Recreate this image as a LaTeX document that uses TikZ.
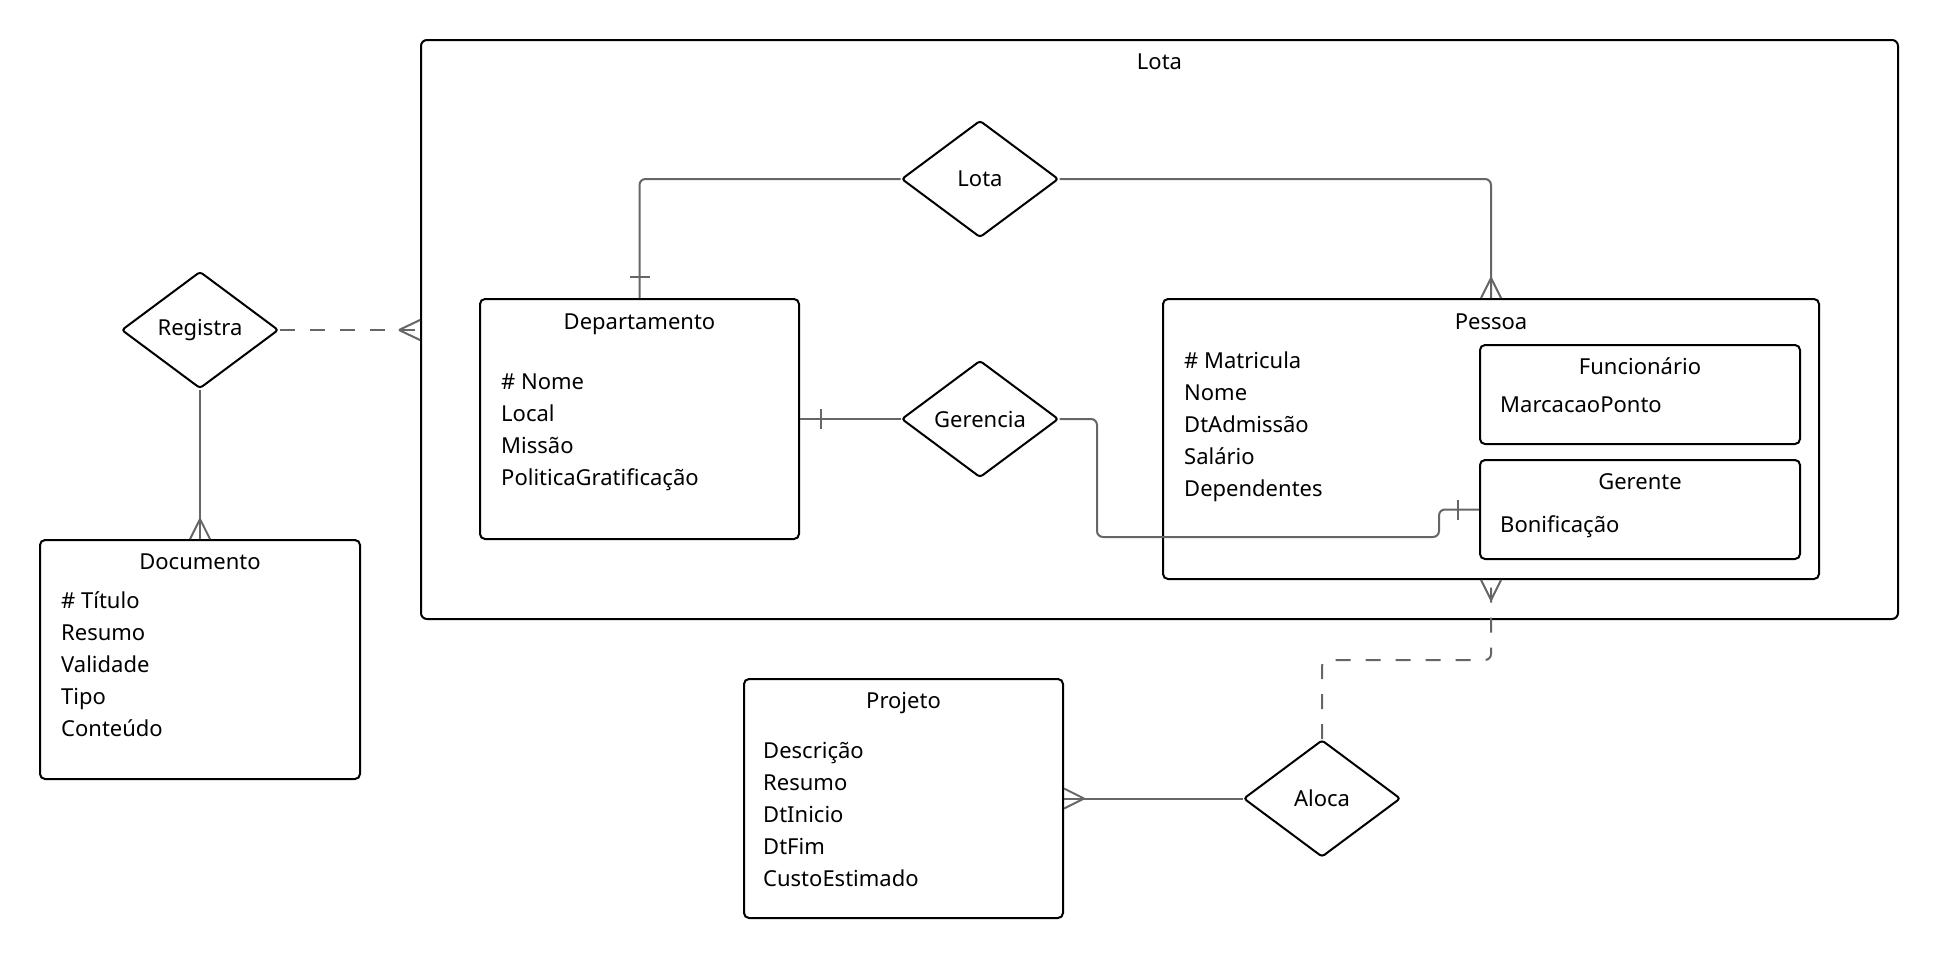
\documentclass[tikz,border=0pt]{standalone}
\usepackage{fontspec}
\setmainfont{Noto Sans}
\usetikzlibrary{shapes.geometric,calc}
\definecolor{linkgray}{HTML}{666666}
\tikzset{
  framebox/.style={draw=black, line width=2pt, rounded corners=6pt, inner sep=0pt},
  entity/.style={draw=black, line width=2pt, rounded corners=5pt, inner sep=0pt},
  relation/.style={draw=black, line width=2pt, shape=diamond, inner sep=0pt,
    minimum width=157pt, minimum height=117pt, rounded corners=3pt},
  title/.style={anchor=base, inner sep=0pt},
  attr/.style={anchor=base west, inner sep=0pt},
  link/.style={draw=linkgray, line width=2pt, rounded corners=6pt},
  dashedlink/.style={link, dash pattern=on 15pt off 15pt},
  endmark/.style={draw=linkgray, line width=2pt},
}
\begin{document}
\begin{tikzpicture}[x=1pt, y=-1pt, font=\fontsize{22}{26}\selectfont]
\useasboundingbox (0,0) rectangle (1940,959);

% enclosing frame
\node[framebox, minimum width=1477pt, minimum height=579pt] (lotaframe) at (1159.5,329.5) {};
\node[title] (lotaframe-t) at (1159.5,69) {Lota};

% entities
\node[entity, minimum width=319pt, minimum height=240pt] (dep) at (639.5,419) {};
\node[title] (dep-t) at (639.5,329) {Departamento};
\foreach \t [count=\i] in {\# Nome, Local, Missão, PoliticaGratificação}
  \node[attr] (dep-a\i) at (501,{389+32*(\i-1)}) {\t};

\node[entity, minimum width=656pt, minimum height=280pt] (pes) at (1491,439) {};
\node[title] (pes-t) at (1491,329) {Pessoa};
\foreach \t [count=\i] in {\# Matricula, Nome, DtAdmissão, Salário, Dependentes}
  \node[attr] (pes-a\i) at (1184,{368+32*(\i-1)}) {\t};

\node[entity, minimum width=320pt, minimum height=99pt] (fun) at (1640,394.5) {};
\node[title] (fun-t) at (1640,374) {Funcionário};
\node[attr] (fun-a1) at (1500,412) {MarcacaoPonto};

\node[entity, minimum width=320pt, minimum height=99pt] (gerente) at (1640,509.5) {};
\node[title] (gerente-t) at (1640,489) {Gerente};
\node[attr] (gerente-a1) at (1500,532) {Bonificação};

\node[entity, minimum width=320pt, minimum height=239pt] (doc) at (200,659.5) {};
\node[title] (doc-t) at (200,569) {Documento};
\foreach \t [count=\i] in {\# Título, Resumo, Validade, Tipo, Conteúdo}
  \node[attr] (doc-a\i) at (61,{608+32*(\i-1)}) {\t};

\node[entity, minimum width=319pt, minimum height=239pt] (proj) at (903.5,798.5) {};
\node[title] (proj-t) at (903.5,708) {Projeto};
\foreach \t [count=\i] in {Descrição, Resumo, DtInicio, DtFim, CustoEstimado}
  \node[attr] (proj-a\i) at (763,{758+32*(\i-1)}) {\t};

% relationships
\node[relation] (lota) at (980,179) {Lota};
\node[relation] (reg) at (200,330) {Registra};
\node[relation] (gerencia) at (980,419) {Gerencia};
\node[relation] (aloca) at (1322,798.5) {Aloca};

% Lota: Departamento (one) -- Pessoa (many)
\draw[link] (lota.west) -| (dep.north);
\draw[endmark] ($(dep.north)+(-10,-21)$) -- ($(dep.north)+(10,-21)$);
\draw[link] (lota.east) -| (pes.north);
\draw[endmark] ($(pes.north)+(0,-20)$) -- ($(pes.north)+(-10,0)$)
            ($(pes.north)+(0,-20)$) -- ($(pes.north)+(10,0)$);

% Registra: frame (many) -- Documento (many)
\coordinate (regend) at (reg.east -| lotaframe.west);
\draw[dashedlink] (reg.east) -- (regend);
\draw[endmark] ($(regend)+(-21,0)$) -- ($(regend)+(0,-10)$)
            ($(regend)+(-21,0)$) -- ($(regend)+(0,10)$);
\draw[link] (reg.south) -- (doc.north);
\draw[endmark] ($(doc.north)+(0,-20)$) -- ($(doc.north)+(-10,0)$)
            ($(doc.north)+(0,-20)$) -- ($(doc.north)+(10,0)$);

% Gerencia: Departamento (one) -- Gerente (one)
\draw[link] (gerencia.west) -- (dep.east);
\draw[endmark] ($(dep.east)+(21,-10)$) -- ($(dep.east)+(21,10)$);
\coordinate (g1) at (1097,537);
\coordinate (g2) at (1439,537);
\draw[link] (gerencia.east) -| (g1) -- (g2) |- (gerente.west);
\draw[endmark] ($(gerente.west)+(-21,-10)$) -- ($(gerente.west)+(-21,10)$);

% Aloca: Pessoa (many) -- Projeto (many)
\coordinate (a1) at (1322,660);
\draw[dashedlink] (aloca.north) -- (a1) -| (pes.south);
\draw[endmark] ($(pes.south)+(0,20)$) -- ($(pes.south)+(-10,0)$)
            ($(pes.south)+(0,20)$) -- ($(pes.south)+(10,0)$);
\draw[link] (aloca.west) -- (proj.east);
\draw[endmark] ($(proj.east)+(20,0)$) -- ($(proj.east)+(0,-10)$)
            ($(proj.east)+(20,0)$) -- ($(proj.east)+(0,10)$);
\end{tikzpicture}
\end{document}
